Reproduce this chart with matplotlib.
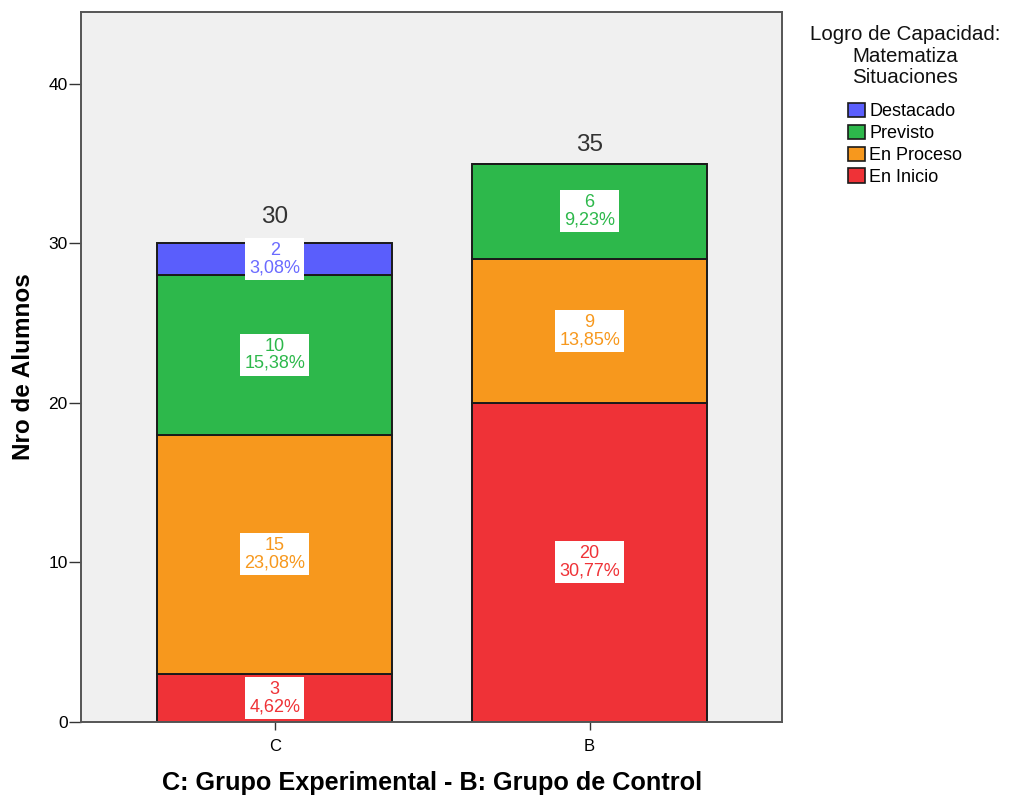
import matplotlib
matplotlib.use('Agg')
import matplotlib.pyplot as plt
from matplotlib.patches import Patch

plt.rcParams['font.family'] = ['Liberation Sans', 'DejaVu Sans']

grupos = ['C', 'B']
niveles = ['En Inicio', 'En Proceso', 'Previsto', 'Destacado']
conteos = {
    'En Inicio': [3, 20],
    'En Proceso': [15, 9],
    'Previsto': [10, 6],
    'Destacado': [2, 0],
}
colores = {
    'En Inicio': '#ef3237',
    'En Proceso': '#f7981d',
    'Previsto': '#2db84b',
    'Destacado': '#5a5efc',
}
colores_texto = {
    'En Inicio': '#ef3237',
    'En Proceso': '#f7981d',
    'Previsto': '#2db84b',
    'Destacado': '#6b6bff',
}

total_general = sum(sum(v) for v in conteos.values())

fig = plt.figure(figsize=(10.09, 7.96), dpi=100)
ax = fig.add_axes([0.0803, 0.093, 0.695, 0.892])
ax.set_facecolor('#f0f0f0')

x = list(range(len(grupos)))
base = [0] * len(grupos)
for nivel in niveles:
    vals = conteos[nivel]
    ax.bar(x, vals, width=0.746, bottom=base, color=colores[nivel],
           edgecolor='#1a1a1a', linewidth=1.4, zorder=2)
    for i, v in enumerate(vals):
        if v == 0:
            continue
        pct = f'{100 * v / total_general:.2f}'.replace('.', ',')
        ax.text(x[i], base[i] + v / 2, f'{v}\n{pct}%', ha='center', va='center',
                fontsize=13, color=colores_texto[nivel], linespacing=1.0, zorder=3,
                bbox=dict(boxstyle='square,pad=0.22', fc='white', ec='none'))
    base = [b + v for b, v in zip(base, vals)]

# totales encima de cada barra (separacion en unidades del eje)
sep_total = [1.3, 0.8]
for i, t in enumerate(base):
    ax.text(x[i], t + sep_total[i], str(t), ha='center', va='baseline',
            fontsize=17.5, color='#333333')

ax.set_xlim(-0.615, 1.612)
ax.set_ylim(0, 44.5)
ax.set_xticks(x)
ax.set_xticklabels(grupos, fontsize=12)
ax.set_yticks([0, 10, 20, 30, 40])
ax.tick_params(axis='y', labelsize=12.5, length=8.6, width=1, color='#333333', pad=1)
ax.tick_params(axis='x', length=6, width=1, color='#333333', pad=6)
for s in ax.spines.values():
    s.set_color('#555555')
    s.set_linewidth(1.4)

ax.set_xlabel('C: Grupo Experimental - B: Grupo de Control',
              fontweight='bold', fontsize=18.2)
ax.set_ylabel('Nro de Alumnos', fontweight='bold', fontsize=17.5)
ax.xaxis.set_label_coords(0.5, -0.069)
ax.yaxis.set_label_coords(-0.066, 0.5)

# leyenda: titulo centrado y cuadros de color
fig.text(905 / 1009, 1 - 56 / 796, 'Logro de Capacidad:\nMatematiza\nSituaciones',
         ha='center', va='center', multialignment='center', fontsize=14.8,
         linespacing=1.15, color='#111111')
handles = [Patch(facecolor=colores[n], edgecolor='#1a1a1a', linewidth=1.2, label=n)
           for n in reversed(niveles)]
ax.legend(handles=handles, loc='upper left',
          bbox_to_anchor=(848 / 1009, 1 - 103 / 796), bbox_transform=fig.transFigure,
          frameon=False, fontsize=13, handlelength=0.95, handleheight=0.85,
          handletextpad=0.22, labelspacing=0.24, borderpad=0, borderaxespad=0)

fig.savefig('out.png', dpi=100)
